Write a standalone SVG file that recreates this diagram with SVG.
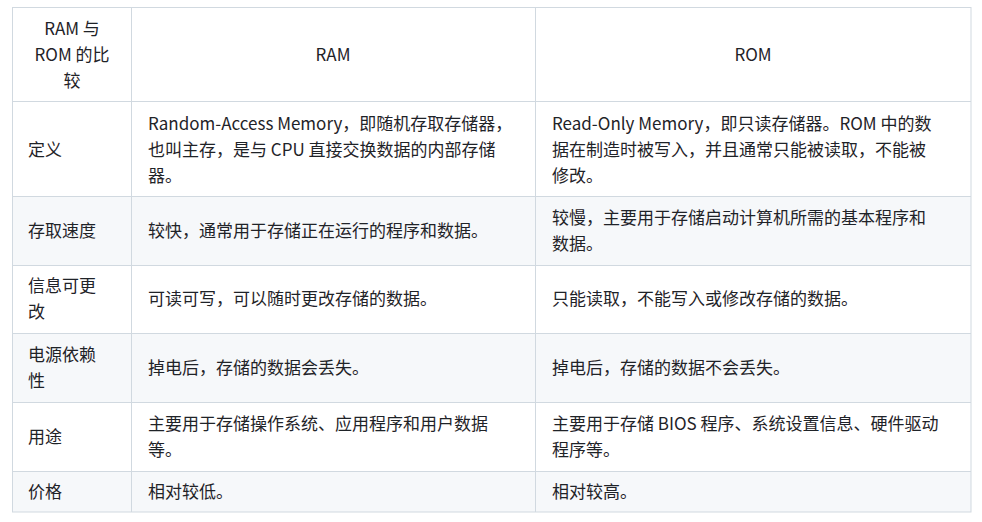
<svg xmlns="http://www.w3.org/2000/svg" width="982" height="522" viewBox="0 0 982 522">
<style>
text{font-family:"Noto Sans CJK SC","Noto Sans",sans-serif;font-size:17px;fill:#1f2328}
.c{text-anchor:middle}
.g{fill:#f6f8fa}
.l{stroke:#d1d9e0;stroke-width:1;fill:none}
</style>
<rect width="982" height="522" fill="#fff"/>
<g id="bg">
<rect class="g" x="12.5" y="196" width="958.5" height="69"/>
<rect class="g" x="12.5" y="333" width="958.5" height="69"/>
<rect class="g" x="12.5" y="471" width="958.5" height="41"/>
</g>
<g id="grid">
<rect class="l" x="12.5" y="7.5" width="958.5" height="504.5"/>
<path class="l" d="M131.5 7.5V512M535.5 7.5V512M12.5 101.5H971M12.5 196.5H971M12.5 265.5H971M12.5 333.5H971M12.5 402.5H971M12.5 471.5H971"/>
</g>
<g id="header">
<text class="c" x="72" y="35">RAM 与</text>
<text class="c" x="72" y="61">ROM 的比</text>
<text class="c" x="72" y="87">较</text>
<text class="c" x="333" y="61">RAM</text>
<text class="c" x="753" y="61">ROM</text>
</g>
<g id="r1">
<text x="28" y="156">定义</text>
<text x="148" y="130">Random-Access Memory，即随机存取存储器，</text>
<text x="148" y="156">也叫主存，是与 CPU 直接交换数据的内部存储</text>
<text x="148" y="182">器。</text>
<text x="552" y="130">Read-Only Memory，即只读存储器。ROM 中的数</text>
<text x="552" y="156">据在制造时被写入，并且通常只能被读取，不能被</text>
<text x="552" y="182">修改。</text>
</g>
<g id="r2">
<text x="28" y="237">存取速度</text>
<text x="148" y="237">较快，通常用于存储正在运行的程序和数据。</text>
<text x="552" y="224">较慢，主要用于存储启动计算机所需的基本程序和</text>
<text x="552" y="250">数据。</text>
</g>
<g id="r3">
<text x="28" y="292">信息可更</text>
<text x="28" y="318">改</text>
<text x="148" y="305">可读可写，可以随时更改存储的数据。</text>
<text x="552" y="305">只能读取，不能写入或修改存储的数据。</text>
</g>
<g id="r4">
<text x="28" y="361">电源依赖</text>
<text x="28" y="387">性</text>
<text x="148" y="374">掉电后，存储的数据会丢失。</text>
<text x="552" y="374">掉电后，存储的数据不会丢失。</text>
</g>
<g id="r5">
<text x="28" y="443">用途</text>
<text x="148" y="430">主要用于存储操作系统、应用程序和用户数据</text>
<text x="148" y="456">等。</text>
<text x="552" y="430">主要用于存储 BIOS 程序、系统设置信息、硬件驱动</text>
<text x="552" y="456">程序等。</text>
</g>
<g id="r6">
<text x="28" y="498">价格</text>
<text x="148" y="498">相对较低。</text>
<text x="552" y="498">相对较高。</text>
</g>
</svg>
